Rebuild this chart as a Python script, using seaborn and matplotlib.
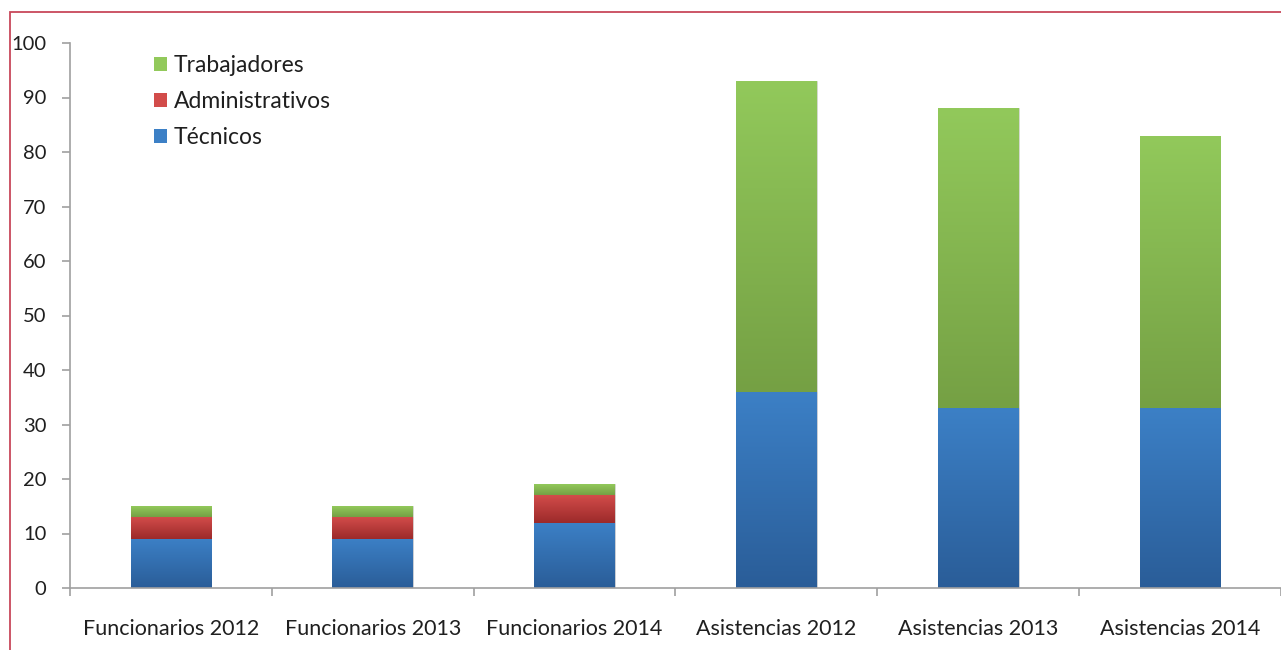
import numpy as np
import pandas as pd
import matplotlib
matplotlib.use("Agg")
import matplotlib.pyplot as plt
import seaborn as sns
from matplotlib.patches import Patch, Rectangle
from matplotlib.colors import LinearSegmentedColormap

categories = ["Funcionarios 2012", "Funcionarios 2013", "Funcionarios 2014",
              "Asistencias 2012", "Asistencias 2013", "Asistencias 2014"]
tecnicos = [9, 9, 12, 36, 33, 33]
administrativos = [4, 4, 5, 0, 0, 0]
trabajadores = [2, 2, 2, 57, 55, 50]
y_ticks = [0, 10, 20, 30, 40, 50, 60, 70, 80, 90, 100]

grad = {
    "Técnicos": ("#3C80C6", "#2A5D98"),
    "Administrativos": ("#D24C4A", "#9C2A2A"),
    "Trabajadores": ("#92C95B", "#75A044"),
}
mid = {"Técnicos": "#3573B8", "Administrativos": "#BD3B3A", "Trabajadores": "#86B94F"}

sns.set_theme(style="white")
plt.rcParams["font.family"] = ["Lato", "DejaVu Sans"]

df = pd.DataFrame({"cat": categories, "Técnicos": tecnicos,
                   "Administrativos": administrativos, "Trabajadores": trabajadores})
df["c1"] = df["Técnicos"]
df["c2"] = df["c1"] + df["Administrativos"]
df["c3"] = df["c2"] + df["Trabajadores"]

fig = plt.figure(figsize=(12.81, 6.5), dpi=100)
ax = fig.add_axes([70 / 1281, 1 - 588 / 650, 1 - 70 / 1281, (588 - 43) / 650])

layers = [("c3", "c2", "Trabajadores"), ("c2", "c1", "Administrativos"), ("c1", None, "Técnicos")]
for top_col, low_col, name in layers:
    n_before = len(ax.patches)
    sns.barplot(data=df, x="cat", y=top_col, color=mid[name], width=0.4,
                saturation=1, ax=ax, order=categories,
                edgecolor="#D8D8D8", linewidth=0.6)
    new_patches = ax.patches[n_before:]
    cmap = LinearSegmentedColormap.from_list(name, [grad[name][1], grad[name][0]])
    for i, p in enumerate(new_patches):
        lo = 0 if low_col is None else df[low_col].iloc[i]
        hi = df[top_col].iloc[i]
        if hi - lo <= 0:
            continue
        x0 = p.get_x()
        w = p.get_width()
        g = np.linspace(0, 1, 256).reshape(-1, 1)
        im = ax.imshow(g, cmap=cmap, origin="lower", aspect="auto",
                       extent=(x0, x0 + w, lo, hi), zorder=p.get_zorder() + 0.01)
        im.set_clip_path(p)

ax.set_xlim(-0.5, 5.5)
ax.set_ylim(0, 100)
ax.set_yticks(y_ticks)
ax.set_yticklabels([str(v) for v in y_ticks])
ax.set_xticks(range(len(categories)))
ax.set_xticklabels(categories)
ax.set_xlabel("")
ax.set_ylabel("")

for s in ["top", "right"]:
    ax.spines[s].set_visible(False)
for s in ["left", "bottom"]:
    ax.spines[s].set_color("#A0A0A0")
    ax.spines[s].set_linewidth(1.2)

ax.tick_params(axis="y", which="major", direction="out", length=6, width=1.2,
               color="#A0A0A0", labelsize=14.5, labelcolor="#1F1F1F", pad=11, left=True)
ax.tick_params(axis="x", which="major", length=0, labelsize=15.5, labelcolor="#1F1F1F", pad=22)
ax.set_xticks(np.arange(-0.5, 6.0, 1.0), minor=True)
ax.tick_params(axis="x", which="minor", direction="out", length=6, width=1.2,
               color="#A0A0A0", bottom=True)

handles = [Patch(facecolor=grad[n][0], edgecolor="none") for n in ["Trabajadores", "Administrativos", "Técnicos"]]
leg = ax.legend(handles, ["Trabajadores", "Administrativos", "Técnicos"],
                loc="upper left", bbox_to_anchor=(145 / 1281, 1 - 46 / 650),
                bbox_transform=fig.transFigure, frameon=False, fontsize=16.5,
                handlelength=0.55, handleheight=0.55, handletextpad=0.3,
                labelspacing=0.66, borderaxespad=0)
for t in leg.get_texts():
    t.set_color("#1F1F1F")

border = Rectangle((10 / 1281, -0.5), 2.0, 1.5 - 12 / 650, transform=fig.transFigure,
                   fill=False, edgecolor="#C8485A", linewidth=1.3, zorder=10)
fig.patches.append(border)

fig.savefig("out.png", dpi=100, facecolor="white")
